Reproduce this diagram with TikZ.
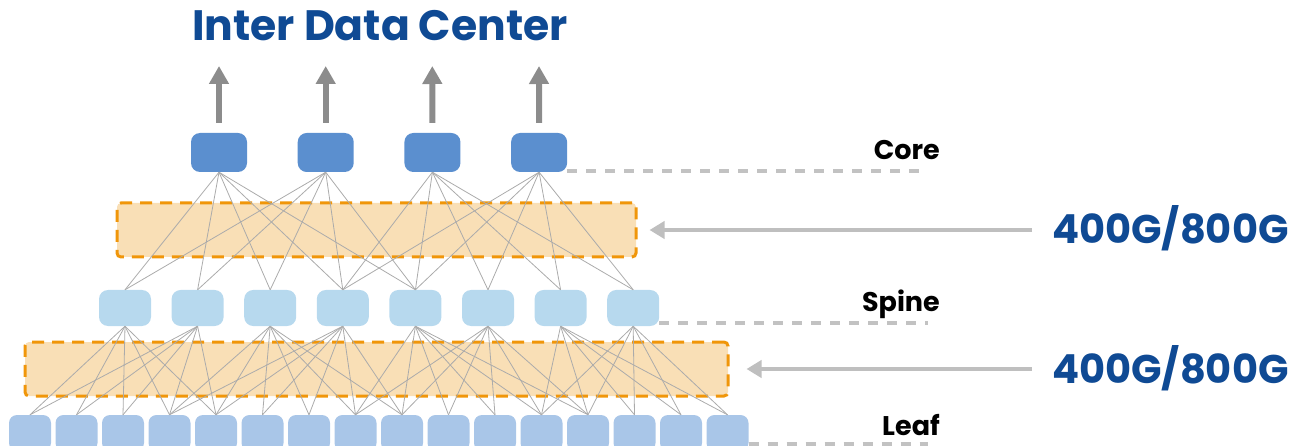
\documentclass[tikz,border=0pt]{standalone}
\usepackage{fontspec}
\setsansfont{Poppins}
\usepackage{xcolor}
\usetikzlibrary{arrows.meta}
\usetikzlibrary{positioning}

\definecolor{corefill}{HTML}{5B8FCF}
\definecolor{spinefill}{HTML}{B7D9EE}
\definecolor{leaffill}{HTML}{A9C6E8}
\definecolor{boxfill}{HTML}{F9DFB6}
\definecolor{boxline}{HTML}{F0960A}
\definecolor{titleblue}{HTML}{0F4A94}

\begin{document}
\begin{tikzpicture}[x=1pt,y=-1pt,font=\sffamily\bfseries,
	core node/.style={rectangle, rounded corners=9pt, fill=corefill, minimum width=56pt, minimum height=39pt, inner sep=0pt, node distance=106.7pt},
	spine node/.style={rectangle, rounded corners=9pt, fill=spinefill, minimum width=52pt, minimum height=36pt, inner sep=0pt, node distance=72.6pt},
	leaf node/.style={rectangle, rounded corners=8pt, fill=leaffill, minimum width=42pt, minimum height=36pt, inner sep=0pt, node distance=46.5pt},
	link box/.style={rectangle, rounded corners=4pt, fill=boxfill, draw=boxline, line width=3pt, dash pattern=on 12pt off 8pt, inner sep=0pt},
	link/.style={draw=black!33, line width=0.8pt},
	up arrow/.style={draw=black!45, line width=6pt, -{Triangle[length=18pt,width=19pt]}},
	side arrow/.style={draw=black!25, line width=4pt, -{Triangle[length=15pt,width=17pt]}},
	guide/.style={draw=black!24, line width=3.5pt, dash pattern=on 10pt off 9pt},
	layer label/.style={font=\fontsize{27}{27}\sffamily\bfseries, inner sep=0pt, anchor=base east},
	speed label/.style={font=\fontsize{40}{40}\sffamily\bfseries, text=titleblue, inner sep=0pt, anchor=base west}]
	\useasboundingbox (0,0) rectangle (1306,446);
	
	% Link boxes
	\node[link box, minimum width=519pt, minimum height=54pt] (b1) at (376.5,230) {};
	\node[link box, minimum width=703pt, minimum height=54pt] (b2) at (376.5,369) {};
	
	% Core
	\node[core node] (c1) at (219,152.5) {};
	\node[core node] (c2) [right of=c1] {};
	\node[core node] (c3) [right of=c2] {};
	\node[core node] (c4) [right of=c3] {};
	
	% Spine
	\node[spine node] (s1) at (125,308) {};
	\node[spine node] (s2) [right of=s1] {};
	\node[spine node] (s3) [right of=s2] {};
	\node[spine node] (s4) [right of=s3] {};
	\node[spine node] (s5) [right of=s4] {};
	\node[spine node] (s6) [right of=s5] {};
	\node[spine node] (s7) [right of=s6] {};
	\node[spine node] (s8) [right of=s7] {};
	
	% Leaf
	\node[leaf node] (l1) at (30,433) {};
	\node[leaf node] (l2) [right of=l1] {};
	\node[leaf node] (l3) [right of=l2] {};
	\node[leaf node] (l4) [right of=l3] {};
	\node[leaf node] (l5) [right of=l4] {};
	\node[leaf node] (l6) [right of=l5] {};
	\node[leaf node] (l7) [right of=l6] {};
	\node[leaf node] (l8) [right of=l7] {};
	\node[leaf node] (l9) [right of=l8] {};
	\node[leaf node] (l10) [right of=l9] {};
	\node[leaf node] (l11) [right of=l10] {};
	\node[leaf node] (l12) [right of=l11] {};
	\node[leaf node] (l13) [right of=l12] {};
	\node[leaf node] (l14) [right of=l13] {};
	\node[leaf node] (l15) [right of=l14] {};
	\node[leaf node] (l16) [right of=l15] {};
	
	% Core - spine links
	\path[link]
	(c1.south) edge (s1.north) edge (s2.north) edge (s3.north) edge (s4.north) edge (s5.north)
	(c2.south) edge (s1.north) edge (s2.north) edge (s3.north) edge (s4.north) edge (s5.north)
	(c3.south) edge (s4.north) edge (s5.north) edge (s6.north) edge (s7.north) edge (s8.north)
	(c4.south) edge (s4.north) edge (s5.north) edge (s6.north) edge (s7.north) edge (s8.north);
	
	% Spine - leaf links
	\path[link]
	(s1.south) edge (l1.north) edge (l2.north) edge (l3.north) edge (l4.north) edge (l5.north)
	(s2.south) edge (l1.north) edge (l2.north) edge (l3.north) edge (l4.north) edge (l5.north)
	(s3.south) edge (l4.north) edge (l5.north) edge (l6.north) edge (l7.north) edge (l8.north) edge (l9.north)
	(s4.south) edge (l4.north) edge (l5.north) edge (l6.north) edge (l7.north) edge (l8.north) edge (l9.north)
	(s5.south) edge (l8.north) edge (l9.north) edge (l10.north) edge (l11.north) edge (l12.north) edge (l13.north)
	(s6.south) edge (l8.north) edge (l9.north) edge (l10.north) edge (l11.north) edge (l12.north) edge (l13.north)
	(s7.south) edge (l12.north) edge (l13.north) edge (l14.north) edge (l15.north) edge (l16.north)
	(s8.south) edge (l12.north) edge (l13.north) edge (l14.north) edge (l15.north) edge (l16.north);
	
	% Up links
	\coordinate (u1) at (219,66);
	\coordinate (u2) at (325.7,66);
	\coordinate (u3) at (432.3,66);
	\coordinate (u4) at (539,66);
	\draw[up arrow, shorten <=10pt] (c1) -- (u1);
	\draw[up arrow, shorten <=10pt] (c2) -- (u2);
	\draw[up arrow, shorten <=10pt] (c3) -- (u3);
	\draw[up arrow, shorten <=10pt] (c4) -- (u4);
	
	\node[text=titleblue, font=\fontsize{42.5}{42.5}\sffamily\bfseries, inner sep=0pt] (title) at (380,26) {Inter Data Center};
	
	% Layer labels
	\node[layer label] (core) at (940,160) {Core};
	\node[layer label] (spine) at (940,312) {Spine};
	\node[layer label] (leaf) at (940,435) {Leaf};
	\coordinate (gc) at (928,171);
	\coordinate (gs) at (928,323);
	\coordinate (gl) at (928,444);
	\draw[guide] (c4.east |- gc) -- (gc);
	\draw[guide] (s8.east |- gs) -- (gs);
	\draw[guide] (l16.east |- gl) -- (gl);
	
	% Speeds
	\node[speed label] (v1) at (1052,244) {400G/800G};
	\node[speed label] (v2) at (1052,383) {400G/800G};
	\draw[side arrow, shorten <=20pt, shorten >=12pt] (v1.west |- b1.east) -- (b1.east);
	\draw[side arrow, shorten <=20pt, shorten >=17pt] (v2.west |- b2.east) -- (b2.east);
\end{tikzpicture}
\end{document}
